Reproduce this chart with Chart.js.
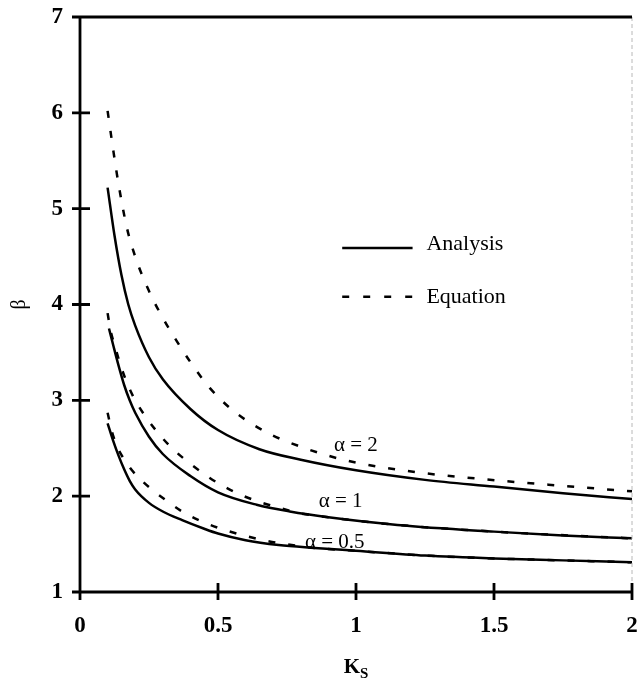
<!DOCTYPE html>
<html>
<head>
<meta charset="utf-8">
<script src="https://cdn.jsdelivr.net/npm/chart.js@4/dist/chart.umd.min.js"></script>
<style>
html, body { margin: 0; padding: 0; background: #fff; }
</style>
</head>
<body>
<canvas id="chart" width="642" height="684"></canvas>
<script>
// values (beta vs Ks)
const xTickLabels = ['0', '0.5', '1', '1.5', '2'];
const yTickLabels = ['1', '2', '3', '4', '5', '6', '7'];

const ksAnalysis2 = [0.10, 0.125, 0.15, 0.175, 0.2, 0.25, 0.3, 0.4, 0.5, 0.65, 0.8, 1.0, 1.25, 1.5, 1.75, 2.0];
const betaAnalysis2 = [5.22, 4.72, 4.31, 4.00, 3.78, 3.45, 3.22, 2.91, 2.69, 2.49, 2.38, 2.27, 2.17, 2.10, 2.03, 1.97];

const ksEquation2 = [0.1, 0.12, 0.14, 0.17, 0.2, 0.25, 0.3, 0.35, 0.4, 0.47, 0.56, 0.68, 0.75, 0.89, 1.0, 1.22, 1.45, 1.74, 2.0];
const betaEquation2 = [6.02, 5.62, 5.25, 4.80, 4.50, 4.14, 3.86, 3.62, 3.40, 3.13, 2.88, 2.66, 2.57, 2.43, 2.35, 2.25, 2.18, 2.11, 2.05];

const ksAnalysis1 = [0.105, 0.12, 0.14, 0.16, 0.18, 0.2, 0.25, 0.3, 0.4, 0.5, 0.64, 0.76, 0.9, 1.15, 1.5, 1.75, 2.0];
const betaAnalysis1 = [3.75, 3.58, 3.36, 3.16, 3.00, 2.87, 2.62, 2.44, 2.21, 2.04, 1.91, 1.84, 1.78, 1.70, 1.63, 1.59, 1.56];

const ksEquation1 = [0.1, 0.11, 0.13, 0.15, 0.175, 0.2, 0.24, 0.28, 0.33, 0.39, 0.46, 0.51, 0.57, 0.64, 0.72, 0.8, 0.9, 1.15, 1.5, 2.0];
const betaEquation1 = [3.91, 3.74, 3.53, 3.34, 3.15, 3.00, 2.82, 2.67, 2.51, 2.36, 2.21, 2.12, 2.03, 1.95, 1.88, 1.82, 1.78, 1.70, 1.63, 1.56];

const ksAnalysis05 = [0.1, 0.12, 0.14, 0.16, 0.18, 0.2, 0.25, 0.3, 0.37, 0.45, 0.5, 0.6, 0.72, 0.85, 1.0, 1.25, 1.5, 1.75, 2.0];
const betaAnalysis05 = [2.76, 2.58, 2.42, 2.28, 2.16, 2.07, 1.93, 1.84, 1.75, 1.66, 1.61, 1.54, 1.49, 1.46, 1.43, 1.38, 1.35, 1.33, 1.31];

const ksEquation05 = [0.1, 0.115, 0.13, 0.15, 0.18, 0.21, 0.26, 0.31, 0.37, 0.43, 0.5, 0.58, 0.65, 0.72, 0.85, 1.0, 1.25, 1.5, 1.75, 2.0];
const betaEquation05 = [2.87, 2.68, 2.55, 2.43, 2.30, 2.20, 2.07, 1.96, 1.84, 1.75, 1.67, 1.60, 1.55, 1.51, 1.46, 1.43, 1.38, 1.35, 1.33, 1.31];

const curveLabels = ['α = 2', 'α = 1', 'α = 0.5'];
const curveLabelKs = [0.92, 0.865, 0.815];
const curveLabelBeta = [2.53, 1.94, 1.52];

const SERIF = '"Liberation Serif", "DejaVu Serif", serif';

function pts(xs, ys) {
  return xs.map((x, i) => ({ x, y: ys[i] }));
}

function curve(label, xs, ys, dashed) {
  return {
    label,
    data: pts(xs, ys),
    borderColor: '#000',
    borderWidth: 2.5,
    borderDash: dashed ? [7, 13] : [],
    pointRadius: 0,
    cubicInterpolationMode: 'monotone',
    fill: false
  };
}

const framePlugin = {
  id: 'frame',
  afterDraw(chart) {
    const { ctx, chartArea: a, scales } = chart;
    const xs = scales.x, ys = scales.y;
    ctx.save();

    // faint right edge of the scan
    ctx.strokeStyle = '#b8b8b8';
    ctx.lineWidth = 1;
    ctx.setLineDash([4, 3]);
    ctx.beginPath();
    ctx.moveTo(a.right, a.top);
    ctx.lineTo(a.right, a.bottom);
    ctx.stroke();
    ctx.setLineDash([]);

    ctx.strokeStyle = '#000';
    ctx.lineWidth = 2.8;
    ctx.beginPath();
    ctx.moveTo(a.left, a.bottom + 8);
    ctx.lineTo(a.left, a.top);
    ctx.moveTo(a.left - 7, a.top);
    ctx.lineTo(a.right, a.top);
    ctx.moveTo(a.left - 8, a.bottom);
    ctx.lineTo(a.right, a.bottom);
    for (const t of ys.ticks) {
      const py = ys.getPixelForValue(t.value);
      ctx.moveTo(a.left - 8, py);
      ctx.lineTo(a.left + 10, py);
    }
    for (const t of xs.ticks) {
      const px = xs.getPixelForValue(t.value);
      ctx.moveTo(px, a.bottom - 9);
      ctx.lineTo(px, a.bottom + 8);
    }
    ctx.stroke();

    // curve labels
    ctx.fillStyle = '#000';
    ctx.font = '21px ' + SERIF;
    ctx.textAlign = 'left';
    ctx.textBaseline = 'middle';
    curveLabels.forEach((t, i) => {
      ctx.fillText(t, xs.getPixelForValue(curveLabelKs[i]), ys.getPixelForValue(curveLabelBeta[i]));
    });

    // legend
    const lx0 = xs.getPixelForValue(0.95), lx1 = xs.getPixelForValue(1.205);
    const ly1 = ys.getPixelForValue(4.59), ly2 = ys.getPixelForValue(4.08);
    ctx.lineWidth = 2.5;
    ctx.beginPath();
    ctx.moveTo(lx0, ly1); ctx.lineTo(lx1, ly1);
    ctx.stroke();
    ctx.setLineDash([7, 14]);
    ctx.beginPath();
    ctx.moveTo(lx0, ly2); ctx.lineTo(lx1, ly2);
    ctx.stroke();
    ctx.setLineDash([]);
    ctx.font = '22px ' + SERIF;
    const tx = xs.getPixelForValue(1.255);
    ctx.fillText('Analysis', tx, ly1 - 4);
    ctx.fillText('Equation', tx, ly2);

    // x axis title K with subscript S
    const cx = (a.left + a.right) / 2;
    ctx.font = 'bold 21px ' + SERIF;
    ctx.textBaseline = 'alphabetic';
    const kw = ctx.measureText('K').width;
    ctx.font = 'bold 15px ' + SERIF;
    const sw = ctx.measureText('S').width;
    const start = cx - (kw + sw) / 2;
    ctx.font = 'bold 21px ' + SERIF;
    ctx.fillText('K', start, a.bottom + 81);
    ctx.font = 'bold 15px ' + SERIF;
    ctx.fillText('S', start + kw, a.bottom + 86);

    ctx.restore();
  }
};

new Chart(document.getElementById('chart'), {
  type: 'line',
  data: {
    datasets: [
      curve('Analysis α=2', ksAnalysis2, betaAnalysis2, false),
      curve('Equation α=2', ksEquation2, betaEquation2, true),
      curve('Analysis α=1', ksAnalysis1, betaAnalysis1, false),
      curve('Equation α=1', ksEquation1, betaEquation1, true),
      curve('Analysis α=0.5', ksAnalysis05, betaAnalysis05, false),
      curve('Equation α=0.5', ksEquation05, betaEquation05, true)
    ]
  },
  options: {
    responsive: false,
    animation: false,
    layout: { padding: { top: 17, right: 10, left: 0, bottom: 0 } },
    plugins: { legend: { display: false }, tooltip: { enabled: false } },
    scales: {
      x: {
        type: 'linear',
        min: 0, max: 2,
        border: { display: false },
        grid: { display: false, drawTicks: true, tickLength: 20 },
        ticks: {
          stepSize: 0.5,
          padding: 0,
          color: '#000',
          font: { family: SERIF, size: 23, weight: 'bold' },
          maxRotation: 0,
          callback: (v, i) => xTickLabels[i]
        },
        afterFit: (s) => { s.height = 92; }
      },
      y: {
        type: 'linear',
        min: 1, max: 7,
        border: { display: false },
        grid: { display: false, drawTicks: true, tickLength: 17 },
        title: {
          display: true,
          text: 'β',
          color: '#000',
          font: { family: SERIF, size: 20 },
          padding: { top: 8, bottom: 0 }
        },
        ticks: {
          stepSize: 1,
          padding: 0,
          color: '#000',
          font: { family: SERIF, size: 23, weight: 'bold' },
          callback: (v, i) => yTickLabels[i]
        },
        afterFit: (s) => { s.width = 80; }
      }
    }
  },
  plugins: [framePlugin]
});
</script>
</body>
</html>
